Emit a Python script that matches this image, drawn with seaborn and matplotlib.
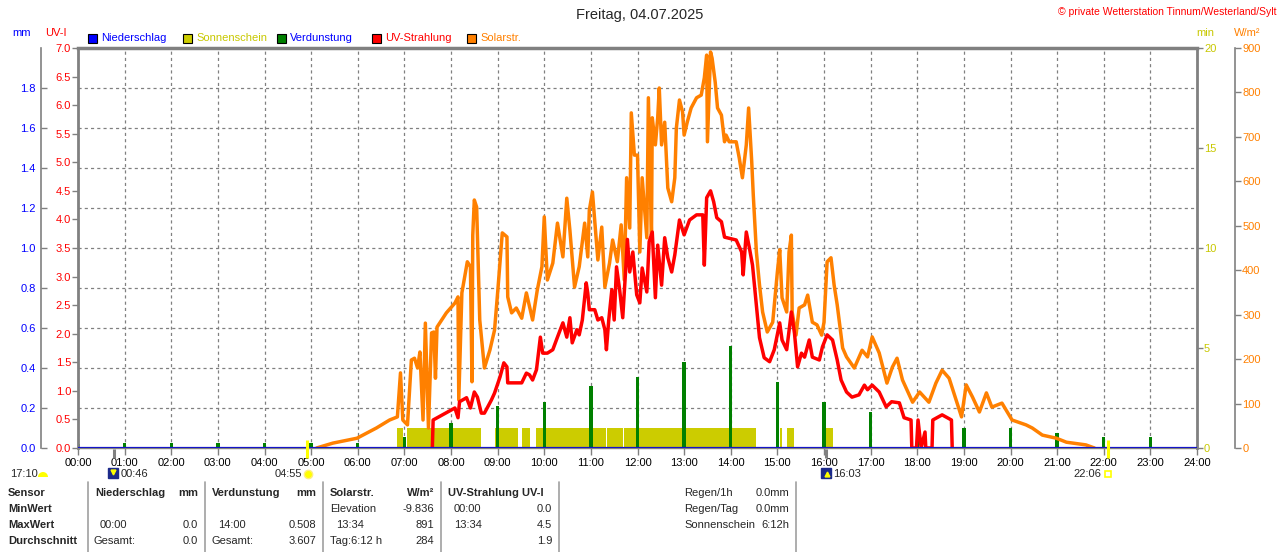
import seaborn as sns
import matplotlib.pyplot as plt
import matplotlib.patches as mpatches
from matplotlib.lines import Line2D
import pandas as pd
import numpy as np

sns.set_theme(style="white")
plt.rcParams["font.family"] = ["Liberation Sans", "DejaVu Sans"]

# Daten

hour_labels = [f"{h:02d}:00" for h in range(25)]

solar_time = ["05:07", "05:28", "05:59", "06:24", "06:41", "06:51", "06:55", "06:58", "07:04", "07:09",
              "07:13", "07:17", "07:20", "07:24", "07:27", "07:31", "07:35", "07:38", "07:40", "07:42",
              "07:54", "08:05", "08:09", "08:10", "08:14", "08:21", "08:25", "08:27", "08:28", "08:30",
              "08:33", "08:37", "08:43", "08:50", "08:56", "09:00", "09:03", "09:06", "09:12", "09:13",
              "09:18", "09:24", "09:31", "09:37", "09:45", "09:51", "09:57", "10:00", "10:04", "10:11",
              "10:17", "10:24", "10:29", "10:33", "10:39", "10:45", "10:52", "10:56", "10:58", "11:02",
              "11:09", "11:14", "11:18", "11:24", "11:28", "11:34", "11:39", "11:43", "11:46", "11:50",
              "11:52", "11:56", "12:00", "12:03", "12:06", "12:12", "12:14", "12:18", "12:19", "12:23",
              "12:26", "12:28", "12:31", "12:35", "12:39", "12:44", "12:48", "12:50", "12:54", "12:58",
              "13:00", "13:04", "13:09", "13:16", "13:22", "13:26", "13:29", "13:30", "13:34", "13:36",
              "13:40", "13:43", "13:48", "13:52", "13:54", "13:58", "14:07", "14:11", "14:15", "14:20",
              "14:23", "14:27", "14:29", "14:33", "14:37", "14:41", "14:47", "14:54", "15:00", "15:03",
              "15:06", "15:12", "15:15", "15:18", "15:19", "15:24", "15:28", "15:35", "15:39", "15:45",
              "15:51", "15:57", "16:00", "16:04", "16:09", "16:13", "16:17", "16:24", "16:29", "16:39",
              "16:49", "16:56", "17:02", "17:11", "17:21", "17:28", "17:34", "17:41", "17:54", "18:03",
              "18:15", "18:24", "18:32", "18:41", "18:50", "18:57", "19:03", "19:11", "19:20", "19:29",
              "19:36", "19:49", "20:02", "20:20", "20:28", "20:41", "20:59", "21:12", "21:37", "21:48"]
solar_wm2 = [0, 11, 22, 45, 63, 70, 169, 63, 52, 198,
             202, 180, 216, 63, 281, 45, 259, 261, 157, 272,
             304, 326, 340, 108, 349, 419, 408, 149, 479, 558,
             542, 288, 180, 220, 265, 349, 416, 484, 475, 340,
             304, 315, 292, 349, 288, 355, 408, 520, 378, 416,
             506, 430, 562, 490, 362, 408, 506, 430, 535, 576,
             423, 497, 362, 416, 468, 419, 502, 378, 608, 495,
             754, 659, 659, 441, 608, 473, 788, 479, 743, 682,
             743, 810, 682, 733, 585, 554, 608, 720, 783, 756,
             704, 733, 765, 788, 794, 833, 884, 689, 891, 877,
             823, 765, 749, 689, 704, 689, 689, 652, 608, 682,
             765, 644, 569, 441, 367, 306, 261, 283, 396, 446,
             338, 306, 441, 479, 306, 254, 315, 322, 344, 283,
             277, 254, 283, 419, 428, 367, 322, 225, 205, 180,
             220, 205, 250, 214, 146, 182, 202, 153, 103, 126,
             103, 146, 175, 157, 108, 70, 142, 115, 81, 124,
             92, 101, 63, 52, 45, 29, 22, 13, 7, 0]

uv_time = ["07:36", "07:37", "07:49", "08:01", "08:05", "08:09", "08:11", "08:20", "08:25", "08:30",
           "08:34", "08:39", "08:43", "08:52", "08:56", "09:03", "09:08", "09:12", "09:13", "09:31",
           "09:37", "09:41", "09:45", "09:50", "09:55", "09:58", "10:04", "10:11", "10:17", "10:24",
           "10:29", "10:33", "10:36", "10:42", "10:45", "10:49", "10:54", "10:56", "10:58", "11:05",
           "11:09", "11:14", "11:18", "11:20", "11:23", "11:27", "11:30", "11:33", "11:37", "11:41",
           "11:45", "11:47", "11:50", "11:54", "11:59", "12:03", "12:06", "12:12", "12:15", "12:19",
           "12:23", "12:26", "12:31", "12:35", "12:39", "12:44", "12:48", "12:54", "13:00", "13:07",
           "13:16", "13:24", "13:26", "13:29", "13:34", "13:38", "13:42", "13:48", "13:52", "13:58",
           "14:07", "14:14", "14:16", "14:20", "14:24", "14:28", "14:33", "14:37", "14:43", "14:50",
           "14:56", "15:03", "15:06", "15:12", "15:18", "15:22", "15:26", "15:31", "15:35", "15:41",
           "15:45", "15:54", "15:58", "16:04", "16:11", "16:17", "16:22", "16:29", "16:36", "16:45",
           "16:52", "16:56", "17:02", "17:11", "17:20", "17:27", "17:37", "17:43", "17:52", "17:53",
           "17:59", "18:01", "18:05", "18:10", "18:11", "18:19", "18:20", "18:32", "18:44", "18:45"]
uv_index = [0.0, 0.49, 0.58, 0.67, 0.70, 0.53, 0.81, 0.88, 0.70, 0.98,
            0.89, 0.61, 0.61, 0.84, 0.96, 1.24, 1.49, 1.42, 1.14, 1.14,
            1.31, 1.28, 1.19, 1.37, 1.94, 1.66, 1.66, 1.72, 1.94, 2.19,
            1.94, 2.28, 1.84, 2.07, 1.98, 2.24, 2.89, 2.71, 2.42, 2.42,
            2.24, 2.28, 2.07, 1.72, 2.24, 2.77, 2.24, 3.17, 2.77, 2.28,
            3.17, 3.65, 3.08, 3.43, 2.68, 2.54, 3.15, 2.73, 3.61, 3.78,
            2.63, 3.55, 2.85, 3.68, 3.33, 3.08, 3.38, 3.99, 3.73, 3.99,
            4.08, 4.08, 3.20, 4.38, 4.50, 4.31, 4.03, 3.96, 3.69, 3.67,
            3.64, 3.43, 3.03, 3.78, 3.50, 3.20, 2.50, 1.93, 1.58, 1.51,
            1.72, 2.19, 1.89, 1.72, 2.38, 2.01, 1.42, 1.66, 1.59, 1.89,
            1.59, 1.54, 1.77, 1.98, 1.89, 1.54, 1.19, 0.98, 0.89, 0.93,
            1.10, 1.02, 1.10, 0.98, 0.72, 0.81, 0.79, 0.53, 0.49, 0.0,
            0.0, 0.49, 0.0, 0.28, 0.0, 0.0, 0.49, 0.58, 0.49, 0.0]

verd_hour = list(range(24))
verd_mm = [0.02, 0.025, 0.025, 0.025, 0.025, 0.025, 0.025, 0.055, 0.125, 0.21, 0.23, 0.31,
           0.357, 0.43, 0.508, 0.33, 0.23, 0.18, 0.107, 0.10, 0.10, 0.077, 0.053, 0.053]

sun_start = ["06:51", "07:03", "08:56", "09:32", "09:49", "11:21", "11:42", "15:03", "15:13", "15:58"]
sun_end = ["06:58", "08:39", "09:26", "09:42", "11:19", "11:41", "14:33", "15:06", "15:21", "16:12"]
sun_min = [1, 1, 1, 1, 1, 1, 1, 1, 1, 1]

rain_time = ["00:00", "24:00"]
rain_mm = [0.0, 0.0]

event_time = ["00:46", "04:55", "16:03", "22:06"]


def to_h(t):
    h, m = t.split(":")
    return int(h) + int(m) / 60


df_solar = pd.DataFrame({"h": [to_h(t) for t in solar_time], "wm2": solar_wm2})
df_uv = pd.DataFrame({"h": [to_h(t) for t in uv_time], "uv": uv_index})
df_rain = pd.DataFrame({"h": [to_h(t) for t in rain_time], "mm": rain_mm})
sun_l = [to_h(t) for t in sun_start]
sun_w = [to_h(e) - to_h(s) for s, e in zip(sun_start, sun_end)]

# Farben
GRAY = "#808080"
BLUE = "#0000ff"
YELLOW = "#c8c800"
GREEN = "#008000"
RED = "#ff0000"
ORANGE = "#ff8000"

W, H = 1280, 552
fig = plt.figure(figsize=(W / 100, H / 100), dpi=100)
fig.patch.set_facecolor("white")


def fx(px):
    return px / W


def fy(py):
    return 1 - py / H


ax_sun = fig.add_axes([fx(78), fy(448), 1119 / W, 400 / H])
ax_mm = ax_sun.twinx()
ax_solar = ax_sun.twinx()
ax_uv = ax_sun.twinx()
ax_rain = ax_sun.twinx()

for a in [ax_sun, ax_mm, ax_solar, ax_uv, ax_rain]:
    a.set_xlim(0, 24)
    for s in a.spines.values():
        s.set_visible(False)

dash = (0, (2.5, 2.5))

# Sonnenschein (min) - Grundachse
ax_sun.set_facecolor("white")
ax_sun.bar(sun_l, sun_min, width=sun_w, align="edge", color="#cccc00", linewidth=0)
ax_sun.set_ylim(0, 20)
ax_sun.yaxis.tick_right()
ax_sun.set_yticks([0, 5, 10, 15, 20])
ax_sun.tick_params(axis="y", direction="out", length=4, width=1, color=GRAY,
                   labelcolor=YELLOW, labelsize=8, pad=1)
ax_sun.set_xticks(range(25))
ax_sun.set_xticklabels(hour_labels)
ax_sun.tick_params(axis="x", direction="out", length=5, width=1, color=GRAY,
                   labelcolor="black", labelsize=8, pad=2, bottom=True)
ax_sun.grid(axis="x", linestyle=dash, color=GRAY, linewidth=0.9)
ax_sun.grid(axis="y", visible=False)
ax_sun.spines["top"].set_visible(True)
ax_sun.spines["top"].set_color(GRAY)
ax_sun.spines["top"].set_linewidth(2.5)
ax_sun.spines["right"].set_visible(True)
ax_sun.spines["right"].set_color(GRAY)
ax_sun.spines["right"].set_linewidth(2)
ax_sun.spines["bottom"].set_visible(True)
ax_sun.spines["bottom"].set_color(GRAY)
ax_sun.spines["bottom"].set_linewidth(1)

# Verdunstung (mm) - linke, abgesetzte Achse
ax_mm.bar(verd_hour, verd_mm, width=0.075, color=GREEN, linewidth=0)
ax_mm.set_ylim(0, 2)
ax_mm.yaxis.tick_left()
ax_mm.spines["left"].set_visible(True)
ax_mm.spines["left"].set_position(("outward", 27))
ax_mm.spines["left"].set_color(GRAY)
ax_mm.spines["left"].set_linewidth(1.2)
ax_mm.set_yticks(np.arange(0, 1.81, 0.2))
ax_mm.set_yticklabels([f"{v:.1f}" for v in np.arange(0, 1.81, 0.2)])
ax_mm.tick_params(axis="y", direction="in", length=4, width=1, color=GRAY,
                  labelcolor=BLUE, labelsize=8, pad=3.5)
ax_mm.grid(axis="y", linestyle=dash, color=GRAY, linewidth=0.9)

# Solarstrahlung (W/m²)
sns.lineplot(data=df_solar, x="h", y="wm2", ax=ax_solar, color=ORANGE, linewidth=2.5,
             estimator=None, sort=False)
ax_solar.set_ylim(0, 900)
ax_solar.set_yticks(range(0, 901, 100))
ax_solar.spines["right"].set_visible(True)
ax_solar.spines["right"].set_position(("outward", 27.5))
ax_solar.spines["right"].set_color(GRAY)
ax_solar.spines["right"].set_linewidth(1.2)
ax_solar.tick_params(axis="y", direction="out", length=4, width=1, color=GRAY,
                     labelcolor=ORANGE, labelsize=8, pad=1)

# UV-Strahlung (UV-I) - linke Rahmenachse
sns.lineplot(data=df_uv, x="h", y="uv", ax=ax_uv, color=RED, linewidth=2.5,
             estimator=None, sort=False)
ax_uv.set_ylim(0, 7)
ax_uv.yaxis.tick_left()
ax_uv.set_yticks(np.arange(0, 7.01, 0.5))
ax_uv.set_yticklabels([f"{v:.1f}" for v in np.arange(0, 7.01, 0.5)])
ax_uv.spines["left"].set_visible(True)
ax_uv.spines["left"].set_color(GRAY)
ax_uv.spines["left"].set_linewidth(2)
ax_uv.tick_params(axis="y", direction="out", length=4, width=1, color=GRAY,
                  labelcolor=RED, labelsize=8, pad=1)

# Niederschlag (mm) - Nulllinie
sns.lineplot(data=df_rain, x="h", y="mm", ax=ax_rain, color="#1414c8", linewidth=1.6,
             estimator=None, sort=False)
ax_rain.set_ylim(0, 2)
ax_rain.set_yticks([])

for a in [ax_sun, ax_mm, ax_solar, ax_uv, ax_rain]:
    a.set_xlabel("")
    a.set_ylabel("")
    a.set_xlim(0, 24)

# Mond- / Sonnenzeiten an der Zeitachse
ev_h = [to_h(t) for t in event_time]
ev_col = [GRAY, "#ffff00", GRAY, "#ffff00"]
ev_top = [-0.003, 0.02, -0.003, 0.02]
for h, c, top in zip(ev_h, ev_col, ev_top):
    ax_rain.plot([h, h], [top, -0.025], transform=ax_rain.get_xaxis_transform(),
                 color=c, lw=2.2, clip_on=False, solid_capstyle="butt")


def ftxt(px, py, s, ha="left", size=8, **kw):
    fig.text(fx(px), fy(py), s, ha=ha, va="center", fontsize=size, **kw)


def fmark(px, py, **kw):
    fig.add_artist(Line2D([fx(px)], [fy(py)], linestyle="none", **kw))


ftxt(10, 474, "17:10")
fig.add_artist(mpatches.Wedge((43, H - 477), 5, 0, 180, facecolor="#ffff00",
                              edgecolor="none", transform=None))
fmark(113, 473, marker="s", ms=7, color="#1c2a8a")
fmark(113, 472, marker="v", ms=3.5, color="#ffff00")
ftxt(121, 474, "00:46")
ftxt(302, 474, "04:55", ha="right")
fmark(308, 474, marker="o", ms=6, color="#ffff00", markeredgecolor="#ffee80")
fmark(826, 473, marker="s", ms=7, color="#1c2a8a")
fmark(827, 474, marker="^", ms=3.5, color="#ffff00")
ftxt(833, 474, "16:03")
ftxt(1101, 474, "22:06", ha="right")
fmark(1108, 474, marker="s", ms=4.5, markerfacecolor="none", markeredgecolor="#ffff00",
      markeredgewidth=1.2)

# Titel und Beschriftungen oben
ftxt(640, 15, "Freitag, 04.07.2025", ha="center", size=10.5)
ftxt(1277, 12, "© private Wetterstation Tinnum/Westerland/Sylt", ha="right", size=7.5, color=RED)
ftxt(22, 33, "mm", ha="center", color=BLUE)
ftxt(56, 33, "UV-I", ha="center", color=RED)
ftxt(1205, 33, "min", ha="center", color=YELLOW)
ftxt(1247, 33, "W/m²", ha="center", color=ORANGE)

# Legende
legend_items = [("Niederschlag", BLUE, BLUE, 88), ("Sonnenschein", "#cccc00", YELLOW, 183),
                ("Verdunstung", GREEN, BLUE, 277), ("UV-Strahlung", RED, RED, 372),
                ("Solarstr.", ORANGE, ORANGE, 467)]
for name, fc, tc, px in legend_items:
    fig.add_artist(mpatches.Rectangle((fx(px), fy(43)), 9 / W, 9 / H, facecolor=fc,
                                      edgecolor="black", linewidth=0.8,
                                      transform=fig.transFigure))
    ftxt(px + 13, 38, name, color=tc)

# Tabelle unten
for xs in [88, 205, 323, 441, 559, 796]:
    fig.add_artist(Line2D([fx(xs), fx(xs)], [fy(482), fy(552)], color="#a0a0a0", lw=1.2))

rows = [493, 509, 525, 541]
for py, s in zip(rows, ["Sensor", "MinWert", "MaxWert", "Durchschnitt"]):
    ftxt(8, py, s, weight="bold")

ftxt(95, rows[0], "Niederschlag", weight="bold")
ftxt(198, rows[0], "mm", ha="right", weight="bold")
ftxt(100, rows[2], "00:00")
ftxt(198, rows[2], "0.0", ha="right")
ftxt(94, rows[3], "Gesamt:")
ftxt(198, rows[3], "0.0", ha="right")

ftxt(212, rows[0], "Verdunstung", weight="bold")
ftxt(316, rows[0], "mm", ha="right", weight="bold")
ftxt(218, rows[2], "14:00")
ftxt(316, rows[2], "0.508", ha="right")
ftxt(212, rows[3], "Gesamt:")
ftxt(316, rows[3], "3.607", ha="right")

ftxt(330, rows[0], "Solarstr.", weight="bold")
ftxt(434, rows[0], "W/m²", ha="right", weight="bold")
ftxt(330, rows[1], "Elevation")
ftxt(434, rows[1], "-9.836", ha="right")
ftxt(336, rows[2], "13:34")
ftxt(434, rows[2], "891", ha="right")
ftxt(330, rows[3], "Tag:6:12 h")
ftxt(434, rows[3], "284", ha="right")

ftxt(448, rows[0], "UV-Strahlung UV-I", weight="bold")
ftxt(454, rows[1], "00:00")
ftxt(552, rows[1], "0.0", ha="right")
ftxt(454, rows[2], "13:34")
ftxt(552, rows[2], "4.5", ha="right")
ftxt(552, rows[3], "1.9", ha="right")

ftxt(684, rows[0], "Regen/1h")
ftxt(789, rows[0], "0.0mm", ha="right")
ftxt(684, rows[1], "Regen/Tag")
ftxt(789, rows[1], "0.0mm", ha="right")
ftxt(684, rows[2], "Sonnenschein")
ftxt(789, rows[2], "6:12h", ha="right")

fig.savefig("out.png", dpi=100, facecolor="white")
